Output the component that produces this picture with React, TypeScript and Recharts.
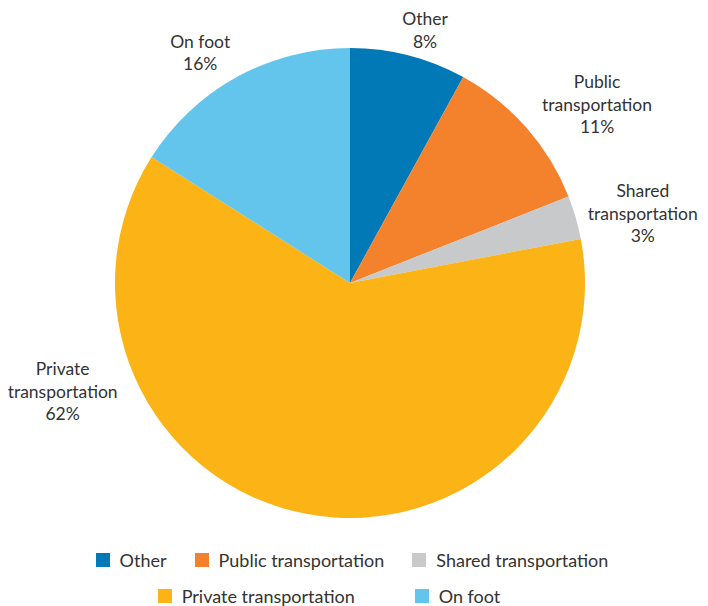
import React, { useEffect } from 'react'
import { PieChart, Pie, Cell, Legend } from 'recharts'

const categories = ['Other', 'Public transportation', 'Shared transportation', 'Private transportation', 'On foot']
const shares = [8, 11, 3, 62, 16]
const colors = ['#0079B6', '#F4812C', '#C8C9CB', '#FBB316', '#63C4EC']
const labelLines = [['Other'], ['Public', 'transportation'], ['Shared', 'transportation'], ['Private', 'transportation'], ['On foot']]

const data = categories.map((name, i) => ({ name, value: shares[i] }))

// where each outside label sits: angle (deg) and distance past the rim
const labelSpots: Record<string, [number, number]> = {
  Other: [73.5, 29],
  'Public transportation': [35.9, 70],
  'Shared transportation': [13.4, 66],
  'Private transportation': [200.6, 72],
  'On foot': [123, 40],
}

const TEXT = '#333333'
const FONT = 'Lato, "Open Sans", sans-serif'
const RAD = Math.PI / 180

function renderLabel(props: any) {
  const { cx, cy, outerRadius, index, value } = props
  const name = categories[index]
  const [ang, off] = labelSpots[name]
  const r = outerRadius + off
  const x = cx + r * Math.cos(ang * RAD)
  const y = cy - r * Math.sin(ang * RAD)
  const lines = [...labelLines[index], `${value}%`]
  const lh = 22.5
  const top = y - ((lines.length - 1) * lh) / 2
  return (
    <g>
      {lines.map((t, i) => (
        <text key={i} x={x} y={top + i * lh} textAnchor="middle" dominantBaseline="central" fill={TEXT} fontSize={17.5} fontFamily={FONT}>
          {t}
        </text>
      ))}
    </g>
  )
}

function LegendRows({ payload }: any) {
  const list = (payload || []) as any[]
  const items = categories.map((c, i) => {
    const p = list.find((it) => it.value === c)
    return { value: c, color: p ? p.color : colors[i] }
  })
  const rows = [items.slice(0, 3), items.slice(3)]
  const gaps = [28, 60]
  const shifts = [-2, -25]
  return (
    <div style={{ fontFamily: FONT, fontSize: 18, color: TEXT }}>
      {rows.map((row, ri) => (
        <div key={ri} style={{ display: 'flex', justifyContent: 'center', gap: gaps[ri], height: 36, lineHeight: '22px', alignItems: 'center', position: 'relative', left: shifts[ri] }}>
          {row.map((it: any) => (
            <div key={it.value} style={{ display: 'flex', alignItems: 'center' }}>
              <span style={{ width: 14, height: 14, background: it.color, display: 'inline-block', marginRight: 10 }} />
              <span>{it.value}</span>
            </div>
          ))}
        </div>
      ))}
    </div>
  )
}

export default function App() {
  useEffect(() => {
    document.body.style.margin = '0'
  }, [])
  return (
    <div style={{ width: 708, height: 606, background: '#fff' }}>
      <PieChart width={708} height={606} margin={{ top: 0, right: 0, bottom: 0, left: 0 }}>
        <Pie
          data={data}
          dataKey="value"
          nameKey="name"
          cx={350}
          cy={283}
          outerRadius={235}
          startAngle={90}
          endAngle={-270}
          stroke="none"
          label={renderLabel}
          labelLine={false}
          isAnimationActive={false}
        >
          {data.map((d, i) => (
            <Cell key={d.name} fill={colors[i]} />
          ))}
        </Pie>
        <Legend content={<LegendRows />} wrapperStyle={{ top: 542, left: 0, width: 708, bottom: 'auto' }} />
      </PieChart>
    </div>
  )
}
